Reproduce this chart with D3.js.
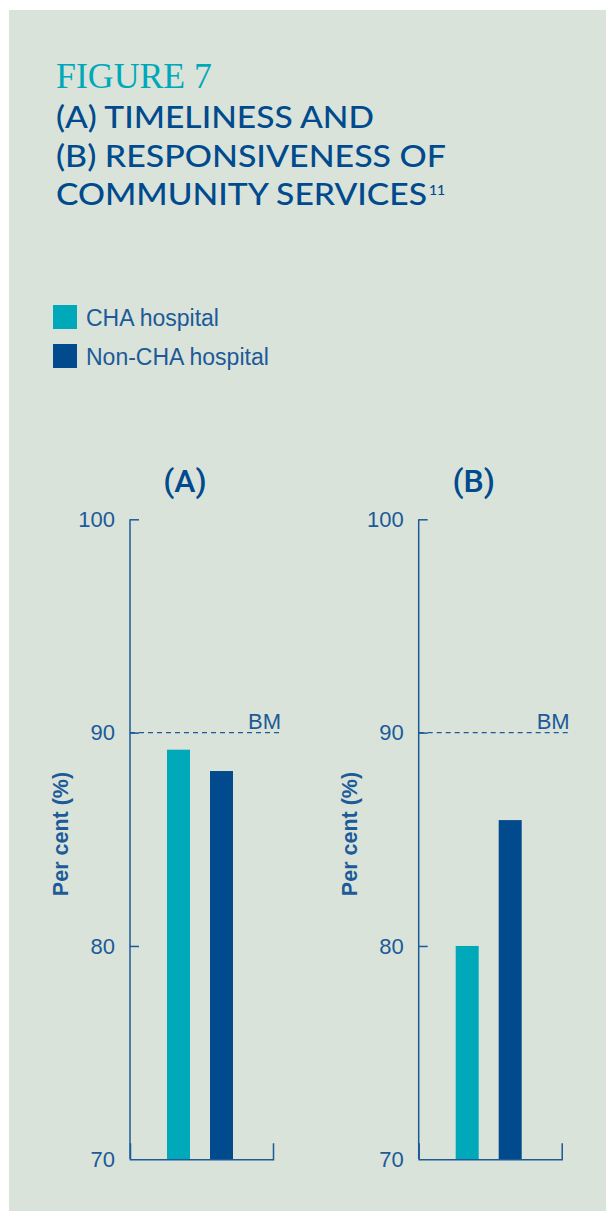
<!DOCTYPE html>
<html>
<head>
<meta charset="utf-8">
<style>
  body { margin: 0; background: #fff; }
  svg { display: block; }
  .title { font-family: Lato, "Open Sans", sans-serif; font-weight: 500; fill: #004a8d; }
  .axis path, .axis line { stroke: #1c5a98; stroke-width: 1.5; }
  .axis text { font-family: "Liberation Sans", Arial, sans-serif; font-size: 22px; fill: #1c5a98; }
</style>
<script src="https://cdnjs.cloudflare.com/ajax/libs/d3/7.8.5/d3.min.js"></script>
</head>
<body>
<script>
// data
var groups = ["CHA hospital", "Non-CHA hospital"];
var panels = ["(A)", "(B)"];
var valuesA = [89.2, 88.2];
var valuesB = [80.0, 85.9];
var benchmark = 90;
var yTicks = [70, 80, 90, 100];
var colors = ["#00a9b9", "#004a8d"];

var W = 606, H = 1211;
var svg = d3.select("body").append("svg").attr("width", W).attr("height", H);

// panel background
svg.append("rect").attr("x", 9).attr("y", 10)
    .attr("width", W - 9).attr("height", H - 10)
    .attr("fill", "#d9e3da");

// heading
svg.append("text").attr("x", 56).attr("y", 88)
    .attr("font-family", "'Liberation Serif', 'DejaVu Serif', serif")
    .attr("font-size", 35).attr("fill", "#00a9b9")
    .attr("textLength", 156).attr("lengthAdjust", "spacingAndGlyphs")
    .text("FIGURE 7");

var lines = [
  {t: "(A) TIMELINESS AND", y: 128, w: 318},
  {t: "(B) RESPONSIVENESS OF", y: 167, w: 390},
  {t: "COMMUNITY SERVICES", y: 205, w: 371}
];
lines.forEach(function(l) {
  svg.append("text").attr("class", "title").attr("x", 56).attr("y", l.y)
      .attr("font-size", 31)
      .attr("textLength", l.w).attr("lengthAdjust", "spacingAndGlyphs")
      .text(l.t);
});
svg.append("text").attr("class", "title").attr("x", 429).attr("y", 195)
    .attr("font-size", 14).text("11");

// legend
var legend = svg.append("g");
groups.forEach(function(g, i) {
  legend.append("rect").attr("x", 53).attr("y", 305 + i * 39)
      .attr("width", 24).attr("height", 24).attr("fill", colors[i]);
  legend.append("text").attr("x", 86).attr("y", 326 + i * 39)
      .attr("font-family", "'Liberation Sans', Arial, sans-serif")
      .attr("font-size", 23).attr("fill", "#1c5a98")
      .text(g);
});

// charts
var y = d3.scaleLinear().domain([70, 100]).range([1159.3, 519.3]);
var x = d3.scaleBand().domain(groups).range([37, 103]).paddingInner(20 / 43);
var axisW = 143;

function drawChart(x0, label, vals) {
  var g = svg.append("g").attr("transform", "translate(" + x0 + ",0)");

  g.append("text").attr("x", 55).attr("y", 492)
      .attr("text-anchor", "middle")
      .attr("font-family", "Roboto, 'Liberation Sans', sans-serif")
      .attr("font-weight", 500).attr("font-size", 32).attr("fill", "#004a8d")
      .text(label);

  // benchmark
  g.append("line").attr("x1", 0).attr("x2", 150)
      .attr("y1", y(benchmark)).attr("y2", y(benchmark))
      .attr("stroke", "#1c5a98").attr("stroke-width", 1.3)
      .attr("stroke-dasharray", "5,4");
  g.append("text").attr("x", 151).attr("y", y(benchmark) - 4)
      .attr("text-anchor", "end")
      .attr("font-family", "'Liberation Sans', Arial, sans-serif")
      .attr("font-size", 22).attr("fill", "#1c5a98")
      .text("BM");

  g.selectAll(".bar").data(vals).enter().append("rect")
      .attr("x", function(d, i) { return x(groups[i]); })
      .attr("width", x.bandwidth())
      .attr("y", function(d) { return y(d); })
      .attr("height", function(d) { return y(70) - y(d); })
      .attr("fill", function(d, i) { return colors[i]; });

  g.append("g").attr("class", "axis")
      .call(d3.axisLeft(y).tickValues(yTicks).tickSize(-9).tickSizeOuter(0).tickPadding(15))
      .call(function(a) { a.select(".domain").remove(); a.selectAll(".tick line").filter(function(d) { return d === 70; }).remove(); })
      .append("line").attr("x1", 0).attr("x2", 0).attr("y1", y(100)).attr("y2", y(70));

  var xs = d3.scaleLinear().range([0, axisW]);
  g.append("g").attr("class", "axis")
      .attr("transform", "translate(0," + y(70) + ")")
      .call(d3.axisBottom(xs).tickValues([]).tickSizeOuter(-16));

  g.append("text")
      .attr("transform", "translate(-62," + 834 + ") rotate(-90)")
      .attr("text-anchor", "middle")
      .attr("font-family", "'Liberation Sans', Arial, sans-serif")
      .attr("font-weight", "bold").attr("font-size", 21.5).attr("fill", "#1c5a98")
      .text("Per cent (%)");
}

drawChart(130, panels[0], valuesA);
drawChart(418.7, panels[1], valuesB);
</script>
</body>
</html>
